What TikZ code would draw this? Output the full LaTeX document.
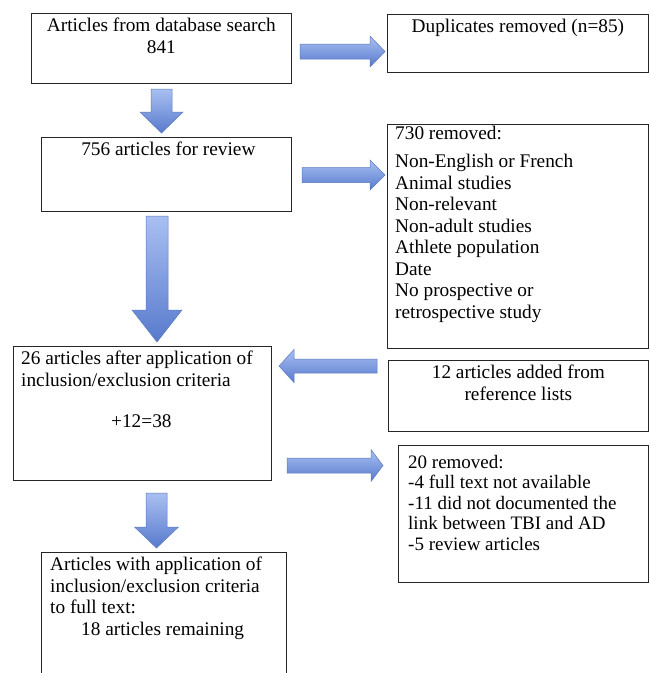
\documentclass[tikz,border=0pt]{standalone}
\usepackage{fontspec}
\setmainfont{Liberation Serif}
\usepackage{xcolor}
\usetikzlibrary{calc}

% block arrow: shaft half width, head half width, head length, tail, tip
\newcommand{\blockarrow}[5]{%
  \coordinate (hb) at ($(#5)!#3!(#4)$);
  \path[blockfill] ($(#4)!#1!90:(#5)$) -- ($(hb)!#1!90:(#5)$) -- ($(hb)!#2!90:(#5)$) -- (#5)
    -- ($(hb)!#2!-90:(#5)$) -- ($(hb)!#1!-90:(#5)$) -- ($(#4)!#1!-90:(#5)$) -- cycle;
}

\begin{document}
\begin{tikzpicture}[
    x=1pt, y=-1pt,
    every node/.style={font=\fontsize{19.3}{21.5}\selectfont},
    box/.style={
      rectangle, draw=black!85, line width=0.8pt,
      anchor=north west, inner sep=0pt
    },
    boxline/.style={draw=black!85, line width=0.8pt},
    boxtext/.style={align=center, anchor=north, inner xsep=6pt, inner ysep=5pt},
    listtext/.style={align=left, anchor=north west, inner xsep=8pt, inner ysep=5pt},
    blockfill/.style={
      top color=arrLight, bottom color=arrDark,
      draw=arrEdge, line width=0.5pt
    }
  ]
    \definecolor{arrLight}{RGB}{168,192,241}
    \definecolor{arrDark}{RGB}{88,122,205}
    \definecolor{arrEdge}{RGB}{92,122,192}

    \path[use as bounding box, fill=white] (0,0) rectangle (649,673);

    % left column
    \node[box, minimum width=260pt, minimum height=70pt,
      label={[boxtext]north:{Articles from database search\\841}}] (search) at (31,13) {};
    \node[box, minimum width=250pt, minimum height=74pt,
      label={[boxtext, xshift=2pt]north:{756 articles for review}}] (review) at (41,137) {};
    \node[box, minimum width=258pt, minimum height=134pt,
      label={[listtext]north west:{26 articles after application of\\inclusion/exclusion criteria\\[20pt]\hspace*{90pt}+12=38}}] (crit) at (13,346) {};
    \node[box, draw=none, minimum width=245pt, minimum height=121pt,
      label={[listtext, inner xsep=9pt]north west:{Articles with application of\\inclusion/exclusion criteria\\to full text:\\\hspace*{31pt}18 articles remaining}}] (fulltext) at (41,552) {};
    \draw[boxline] (fulltext.south west) -- (fulltext.north west) -- (fulltext.north east) -- (fulltext.south east);

    % right column
    \node[box, minimum width=261pt, minimum height=58pt,
      label={[boxtext]north:{Duplicates removed (n=85)}}] (dups) at (387,14) {};
    \node[box, minimum width=261pt, minimum height=224pt,
      label={[listtext, inner ysep=2pt]north west:{730 removed:\\[6.5pt]Non-English or French\\Animal studies\\Non-relevant\\Non-adult studies\\Athlete population\\Date\\No prospective or\\retrospective study}}] (excl) at (387,124) {};
    \node[box, minimum width=260pt, minimum height=71pt,
      label={[boxtext]north:{12 articles added from\\reference lists}}] (added) at (388,360) {};
    \node[box, minimum width=250pt, minimum height=137pt,
      label={[listtext, inner xsep=10pt, inner ysep=10pt, font=\fontsize{19}{20.5}\selectfont]north west:{20 removed:\\-4 full text not available\\-11 did not documented the\\link between TBI and AD\\-5 review articles}}] (removed) at (398,445) {};

    % arrow ends
    \coordinate (a1s) at (300,51.5);   \coordinate (a1e) at (385,51.5);
    \coordinate (a2s) at (161.5,89);   \coordinate (a2e) at (161.5,133);
    \coordinate (a3s) at (302,175);    \coordinate (a3e) at (385,175);
    \coordinate (a4s) at (157,216);    \coordinate (a4e) at (157,342);
    \coordinate (a5s) at (377,366);    \coordinate (a5e) at (279,366);
    \coordinate (a6s) at (287,465.5);  \coordinate (a6e) at (383,465.5);
    \coordinate (a7s) at (156.5,493);  \coordinate (a7e) at (156.5,548);

    \blockarrow{7.5pt}{15.5pt}{15pt}{a1s}{a1e}
    \blockarrow{10.5pt}{21.5pt}{21pt}{a2s}{a2e}
    \blockarrow{7.5pt}{15pt}{15pt}{a3s}{a3e}
    \blockarrow{11pt}{25pt}{32pt}{a4s}{a4e}
    \blockarrow{7pt}{16.5pt}{15pt}{a5s}{a5e}
    \blockarrow{7.5pt}{16pt}{12pt}{a6s}{a6e}
    \blockarrow{10.5pt}{22pt}{21pt}{a7s}{a7e}
  \end{tikzpicture}
\end{document}
